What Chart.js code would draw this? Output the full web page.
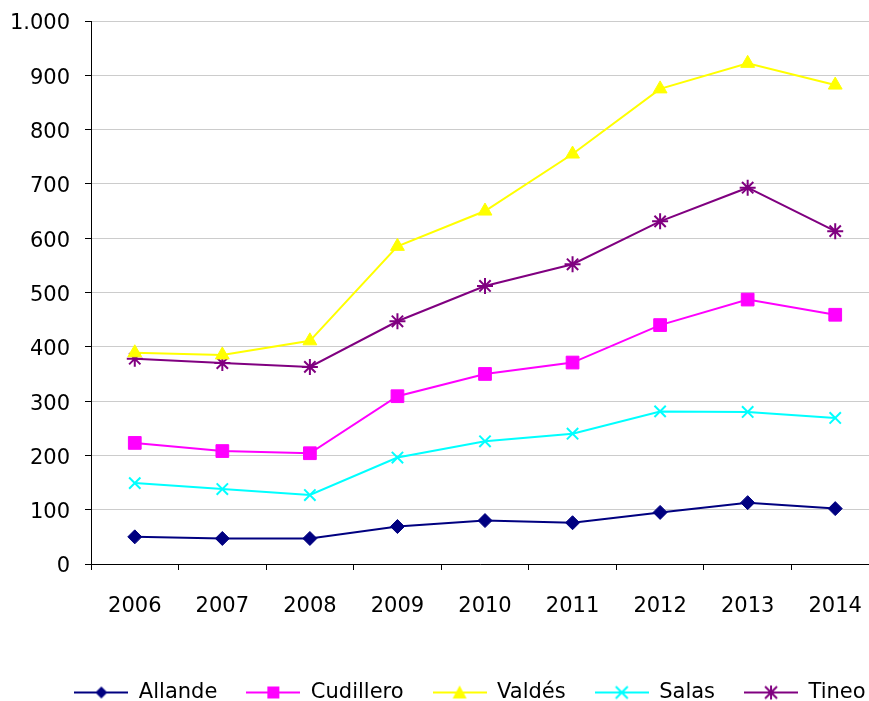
<!DOCTYPE html>
<html>
<head>
<meta charset="utf-8">
<script src="https://cdn.jsdelivr.net/npm/chart.js@4/dist/chart.umd.min.js"></script>
<style>
  html, body { margin: 0; padding: 0; background: #fff; overflow: hidden; }
  #line_chart_canvas { display: block; }
</style>
</head>
<body>
<canvas id="line_chart_canvas" width="869" height="701"></canvas>
<script>
var years = ['2006', '2007', '2008', '2009', '2010', '2011', '2012', '2013', '2014'];

var allande   = [50, 47, 47, 69, 80, 76, 95, 113, 102];
var cudillero = [223, 208, 204, 309, 350, 371, 440, 487, 459];
var valdes    = [389, 385, 411, 585, 650, 755, 875, 922, 882];
var salas     = [149, 138, 127, 196, 226, 240, 281, 280, 269];
var tineo     = [378, 370, 363, 447, 512, 552, 631, 693, 613];

var yTicks = [0, 100, 200, 300, 400, 500, 600, 700, 800, 900, 1000];

var FONT = 'DejaVu Sans';

// little marker drawer for the legend icons (line + marker like Excel)
function drawMarker(c, style, x, y, color) {
  c.fillStyle = color;
  c.strokeStyle = color;
  c.beginPath();
  if (style == 'rectRot') {
    c.moveTo(x, y - 6); c.lineTo(x + 6, y); c.lineTo(x, y + 6); c.lineTo(x - 6, y);
    c.closePath(); c.fill();
  } else if (style == 'rect') {
    c.rect(x - 6, y - 6, 12, 12); c.fill();
  } else if (style == 'triangle') {
    c.moveTo(x, y - 7); c.lineTo(x + 7, y + 6); c.lineTo(x - 7, y + 6);
    c.closePath(); c.fill();
  } else if (style == 'crossRot') {
    c.lineWidth = 2;
    c.moveTo(x - 6, y - 6); c.lineTo(x + 6, y + 6);
    c.moveTo(x + 6, y - 6); c.lineTo(x - 6, y + 6);
    c.stroke();
  } else if (style == 'star') {
    c.lineWidth = 2;
    c.moveTo(x - 6, y - 6); c.lineTo(x + 6, y + 6);
    c.moveTo(x + 6, y - 6); c.lineTo(x - 6, y + 6);
    c.moveTo(x, y - 7); c.lineTo(x, y + 7);
    c.stroke();
  }
}

function legendIcon(style, color) {
  var cv = document.createElement('canvas');
  cv.width = 54; cv.height = 18;
  var c = cv.getContext('2d');
  c.strokeStyle = color;
  c.lineWidth = 2;
  c.beginPath(); c.moveTo(0, 9); c.lineTo(54, 9); c.stroke();
  drawMarker(c, style, 27, 9, color);
  return cv;
}

function fmt(v) {
  return v >= 1000 ? Math.floor(v / 1000) + '.' + String(v % 1000).padStart(3, '0') : String(v);
}

var series = [
  {label: 'Allande',   data: allande,   color: '#000080', style: 'rectRot',  r: 7, bw: 1},
  {label: 'Cudillero', data: cudillero, color: '#FF00FF', style: 'rect',     r: 9, bw: 1},
  {label: 'Valdés',    data: valdes,    color: '#FFFF00', style: 'triangle', r: 8, bw: 1},
  {label: 'Salas',     data: salas,     color: '#00FFFF', style: 'crossRot', r: 8, bw: 2},
  {label: 'Tineo',     data: tineo,     color: '#800080', style: 'star',     r: 8, bw: 2}
];

// the excel plot runs past the right edge of the picture, and the legend sits off-centre
var layoutFix = {
  id: 'layoutFix',
  afterLayout: function(chart) {
    chart.chartArea.right = 879;
    chart.chartArea.width = chart.chartArea.right - chart.chartArea.left;
    var x = chart.scales.x;
    x.right = 879;
    x.width = x.right - x.left;
    x.configure();
    var lg = chart.legend;
    var dx = 470 - (lg.left + lg.right) / 2;
    lg.left += dx; lg.right += dx;
    lg.top += 12; lg.bottom += 12;
  }
};

var ctx = document.getElementById('line_chart_canvas').getContext('2d');
var chart = new Chart(ctx, {
  type: 'line',
  data: {
    labels: years,
    datasets: series.map(function(s) {
      return {
        label: s.label,
        data: s.data,
        borderColor: s.color,
        backgroundColor: s.color,
        borderWidth: 2,
        pointStyle: s.style,
        pointRadius: s.r,
        pointHoverRadius: s.r,
        pointBorderWidth: s.bw,
        pointBackgroundColor: s.color,
        pointBorderColor: s.color,
        tension: 0,
        fill: false,
        clip: false
      };
    })
  },
  options: {
    responsive: false,
    animation: false,
    devicePixelRatio: 1,
    layout: { padding: { top: 21, right: 0, left: 0, bottom: 0 } },
    plugins: {
      tooltip: { enabled: false },
      legend: {
        position: 'bottom',
        labels: {
          usePointStyle: true,
          pointStyleWidth: 54,
          padding: 29,
          color: '#000',
          font: { family: FONT, size: 21 },
          generateLabels: function(ch) {
            var items = Chart.defaults.plugins.legend.labels.generateLabels(ch);
            items.forEach(function(it, i) {
              it.pointStyle = legendIcon(series[i].style, series[i].color);
            });
            return items;
          }
        }
      }
    },
    scales: {
      x: {
        offset: true,
        afterFit: function(scale) { scale.height = 77; scale.paddingLeft = 0; scale.paddingRight = 0; },
        grid: { display: true, drawOnChartArea: false, offset: true, tickLength: 6, tickColor: '#000' },
        border: { display: true, color: '#000', width: 1 },
        ticks: { color: '#000', padding: 24, font: { family: FONT, size: 21 }, maxRotation: 0 }
      },
      y: {
        min: 0,
        max: 1000,
        afterFit: function(scale) { scale.width = 91; scale.paddingTop = 0; scale.paddingBottom = 0; },
        afterBuildTicks: function(scale) { scale.ticks = yTicks.map(function(v) { return {value: v}; }); },
        grid: { color: '#cccccc', tickLength: 6, tickColor: '#000' },
        border: { display: true, color: '#000', width: 1 },
        ticks: {
          color: '#000',
          padding: 15,
          labelOffset: 3,
          font: { family: FONT, size: 21 },
          callback: function(v) { return fmt(v); }
        }
      }
    }
  },
  plugins: [layoutFix]
});
</script>
</body>
</html>
